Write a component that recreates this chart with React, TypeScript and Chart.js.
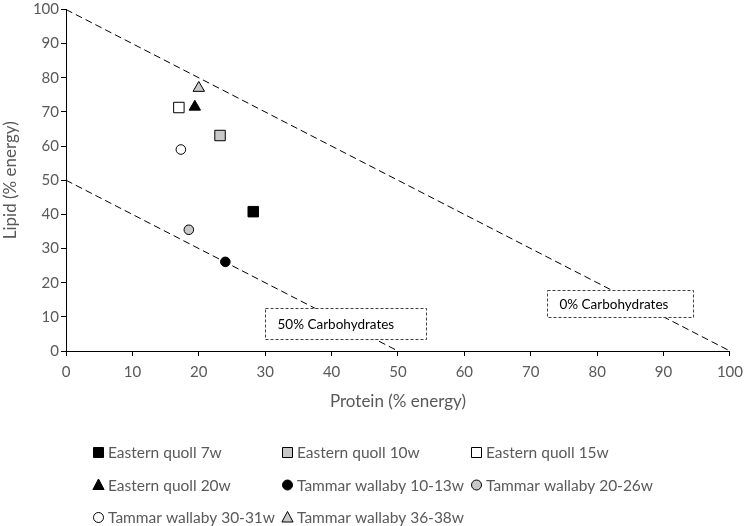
import React, { useEffect, useRef } from "react";
import { Chart, registerables } from "chart.js";

Chart.register(...registerables);

// ---- Data ----
const seriesNames = [
  "Eastern quoll 7w",
  "Eastern quoll 10w",
  "Eastern quoll 15w",
  "Eastern quoll 20w",
  "Tammar wallaby 10-13w",
  "Tammar wallaby 20-26w",
  "Tammar wallaby 30-31w",
  "Tammar wallaby 36-38w",
];
const proteinValues = [28.2, 23.2, 17.0, 19.4, 24.0, 18.5, 17.3, 20.0];
const lipidValues = [40.8, 63.1, 71.3, 71.5, 26.1, 35.5, 59.0, 77.0];

// Reference lines (constant carbohydrate share)
const carb0Protein = [0, 100];
const carb0Lipid = [100, 0];
const carb50Protein = [0, 50];
const carb50Lipid = [50, 0];

const xTickValues = [0, 10, 20, 30, 40, 50, 60, 70, 80, 90, 100];
const yTickValues = [0, 10, 20, 30, 40, 50, 60, 70, 80, 90, 100];
const annotationLabels = ["50% Carbohydrates", "0% Carbohydrates"];

// ---- Styles ----
const GRAY = "#c8c8c8";
const TEXT = "#595959";
const FONT = "Lato, 'Open Sans', sans-serif";
const seriesStyles = [
  { shape: "rect", fill: "#000000" },
  { shape: "rect", fill: GRAY },
  { shape: "rect", fill: "#ffffff" },
  { shape: "triangle", fill: "#000000" },
  { shape: "circle", fill: "#000000" },
  { shape: "circle", fill: GRAY },
  { shape: "circle", fill: "#ffffff" },
  { shape: "triangle", fill: GRAY },
];
const radiusFor = (shape: string) =>
  shape === "rect" ? 7.4 : shape === "triangle" ? 6.6 : 4.8;

// annotation boxes in data units: [x0, x1, yTop, yBottom]
const annotationBoxes = [
  [30.0, 54.2, 12.6, 3.6],
  [72.5, 94.4, 17.9, 10.1],
];

const drawShape = (ctx: CanvasRenderingContext2D, shape: string, x: number, y: number, fill: string) => {
  ctx.save();
  ctx.fillStyle = fill;
  ctx.strokeStyle = "#000";
  ctx.lineWidth = 1;
  ctx.beginPath();
  if (shape === "rect") {
    ctx.rect(x - 5, y - 5, 10, 10);
  } else if (shape === "circle") {
    ctx.arc(x, y, 5, 0, Math.PI * 2);
  } else {
    ctx.moveTo(x, y - 6);
    ctx.lineTo(x + 5.6, y + 4.5);
    ctx.lineTo(x - 5.6, y + 4.5);
    ctx.closePath();
  }
  ctx.fill();
  ctx.stroke();
  ctx.restore();
};

const overlayPlugin = {
  id: "overlay",
  afterDatasetsDraw(chart: any) {
    const ctx: CanvasRenderingContext2D = chart.ctx;
    const xs = chart.scales.x;
    const ys = chart.scales.y;
    annotationBoxes.forEach((b, i) => {
      const x0 = Math.round(xs.getPixelForValue(b[0])) + 0.5;
      const x1 = Math.round(xs.getPixelForValue(b[1])) + 0.5;
      const y0 = Math.round(ys.getPixelForValue(b[2])) + 0.5;
      const y1 = Math.round(ys.getPixelForValue(b[3])) + 0.5;
      ctx.save();
      ctx.fillStyle = "#fff";
      ctx.fillRect(x0, y0, x1 - x0, y1 - y0);
      ctx.setLineDash([3, 2]);
      ctx.strokeStyle = "#404040";
      ctx.lineWidth = 1;
      ctx.strokeRect(x0, y0, x1 - x0, y1 - y0);
      ctx.setLineDash([]);
      ctx.fillStyle = "#000";
      ctx.font = "13.5px " + FONT;
      ctx.textAlign = "left";
      ctx.textBaseline = "middle";
      ctx.fillText(annotationLabels[i], x0 + 12, (y0 + y1) / 2 + 1);
      ctx.restore();
    });
  },
  afterDraw(chart: any) {
    const ctx: CanvasRenderingContext2D = chart.ctx;
    const colW = 189;
    const rowH = 32.5;
    const startX = 98;
    const startY = 452;
    ctx.save();
    ctx.font = "15.5px " + FONT;
    ctx.fillStyle = TEXT;
    ctx.textAlign = "left";
    ctx.textBaseline = "middle";
    seriesNames.forEach((name, i) => {
      const col = i % 3;
      const row = Math.floor(i / 3);
      const x = startX + col * colW;
      const y = startY + row * rowH;
      drawShape(ctx, seriesStyles[i].shape, x + 0.5, y + 0.5, seriesStyles[i].fill);
      ctx.fillStyle = TEXT;
      ctx.fillText(name, x + 10, y + 1);
    });
    ctx.restore();
  },
};

export default function App() {
  const ref = useRef<HTMLCanvasElement>(null);
  useEffect(() => {
    if (!ref.current) return;
    const scatterSets = seriesNames.map((name, i) => ({
      type: "scatter" as const,
      label: name,
      data: [{ x: proteinValues[i], y: lipidValues[i] }],
      pointStyle: seriesStyles[i].shape,
      pointRadius: radiusFor(seriesStyles[i].shape),
      backgroundColor: seriesStyles[i].fill,
      borderColor: "#000",
      borderWidth: 1,
    }));
    const lineSet = (px: number[], ly: number[], label: string) => ({
      type: "line" as const,
      label,
      data: px.map((x, k) => ({ x, y: ly[k] })),
      borderColor: "#000",
      borderWidth: 1,
      borderDash: [7, 4],
      pointRadius: 0,
      fill: false,
      order: 10,
    });
    const chart = new Chart(ref.current, {
      type: "scatter",
      data: {
        datasets: [
          lineSet(carb0Protein, carb0Lipid, "0% Carbohydrates line"),
          lineSet(carb50Protein, carb50Lipid, "50% Carbohydrates line"),
          ...scatterSets,
        ] as any,
      },
      options: {
        responsive: false,
        animation: false,
        devicePixelRatio: 1,
        layout: { padding: { left: 0, right: 8, top: 5, bottom: 114 } },
        plugins: { legend: { display: false }, tooltip: { enabled: false } },
        scales: {
          x: {
            type: "linear",
            min: 0,
            max: 100,
            afterBuildTicks: (s: any) => {
              s.ticks = xTickValues.map((v) => ({ value: v }));
            },
            afterFit: (s: any) => {
              s.height = 61;
            },
            grid: { drawOnChartArea: false, drawTicks: true, tickLength: 5, color: "#000" },
            border: { color: "#000", width: 1 },
            ticks: { color: TEXT, font: { family: FONT, size: 15 }, padding: 7, maxRotation: 0 },
            title: {
              display: true,
              text: "Protein (% energy)",
              color: TEXT,
              font: { family: FONT, size: 17 },
              padding: 0,
            },
          },
          y: {
            type: "linear",
            min: 0,
            max: 100,
            afterBuildTicks: (s: any) => {
              s.ticks = yTickValues.map((v) => ({ value: v }));
            },
            afterFit: (s: any) => {
              s.width = 66;
            },
            grid: { drawOnChartArea: false, drawTicks: true, tickLength: 5, color: "#000" },
            border: { color: "#000", width: 1 },
            ticks: { color: TEXT, font: { family: FONT, size: 15, lineHeight: 1 }, padding: 2 },
            title: {
              display: true,
              text: "Lipid (% energy)",
              color: TEXT,
              font: { family: FONT, size: 17 },
              padding: 0,
            },
          },
        },
      },
      plugins: [overlayPlugin],
    });
    return () => chart.destroy();
  }, []);
  return (
    <div style={{ position: "absolute", left: 0, top: 0, width: 750, height: 526, background: "#fff" }}>
      <canvas ref={ref} width={750} height={526} style={{ display: "block" }} />
    </div>
  );
}
